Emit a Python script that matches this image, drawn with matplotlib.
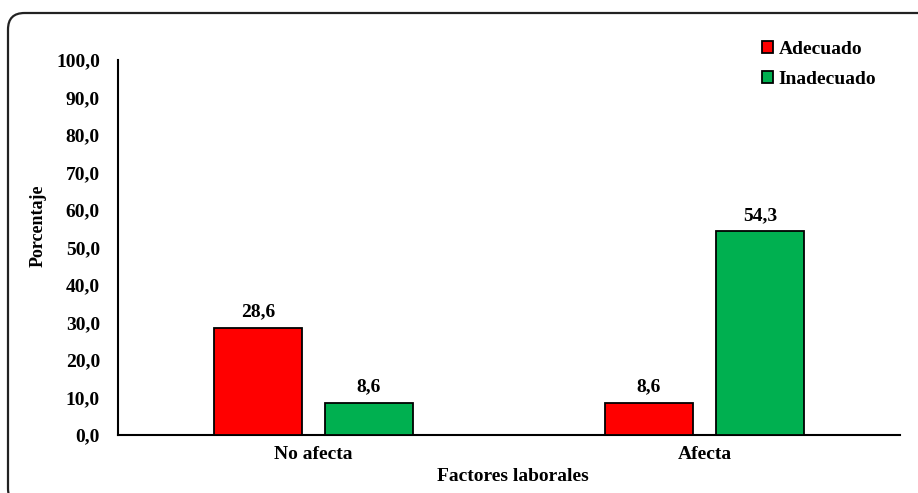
import matplotlib
matplotlib.use("Agg")
import matplotlib.pyplot as plt
from matplotlib.patches import FancyBboxPatch
import numpy as np

categories = ["No afecta", "Afecta"]
series_names = ["Adecuado", "Inadecuado"]
adecuado = [28.6, 8.6]
inadecuado = [8.6, 54.3]
y_ticks = [0, 10, 20, 30, 40, 50, 60, 70, 80, 90, 100]
colors = ["#FF0000", "#00B050"]

plt.rcParams["font.family"] = ["Liberation Serif", "DejaVu Serif"]
plt.rcParams["font.weight"] = "bold"
FS = 14

fig = plt.figure(figsize=(9.18, 4.93), dpi=100)
W, H = 918, 493

# rounded outer frame (runs off the right and bottom edges)
frame = FancyBboxPatch((8 / W, -12 / H), (990 - 8) / W, (480 + 12) / H,
                       boxstyle="round,pad=0,rounding_size=0.018",
                       transform=fig.transFigure, fill=False,
                       edgecolor="#222222", linewidth=1.6, mutation_aspect=W / H,
                       clip_on=False)
fig.patches.append(frame)

ax = fig.add_axes([118 / W, 1 - 435 / H, (900 - 118) / W, (435 - 60) / H])

x = np.arange(len(categories))
width = 0.225
offset = 0.142
b1 = ax.bar(x - offset, adecuado, width, color=colors[0], edgecolor="black",
            linewidth=1.3, label=series_names[0], zorder=3)
b2 = ax.bar(x + offset, inadecuado, width, color=colors[1], edgecolor="black",
            linewidth=1.3, label=series_names[1], zorder=3)

for bars, vals in ((b1, adecuado), (b2, inadecuado)):
    for rect, v in zip(bars, vals):
        ax.text(rect.get_x() + rect.get_width() / 2, v + 2.0,
                f"{v:.1f}".replace(".", ","), ha="center", va="bottom",
                fontsize=FS, fontweight="bold")

ax.set_xlim(-0.5, 1.5)
ax.set_ylim(0, 100)
ax.set_yticks(y_ticks)
ax.set_yticklabels([f"{t:.1f}".replace(".", ",") for t in y_ticks],
                   fontsize=FS, fontweight="bold")
ax.set_xticks(x)
ax.set_xticklabels(categories, fontsize=FS, fontweight="bold")
ax.tick_params(axis="both", length=0)
ax.tick_params(axis="y", pad=13)
ax.tick_params(axis="x", pad=8)

for s in ("top", "right"):
    ax.spines[s].set_visible(False)
for s in ("left", "bottom"):
    ax.spines[s].set_linewidth(1.5)
    ax.spines[s].set_color("black")

ax.set_xlabel("Factores laborales", fontsize=FS, fontweight="bold", va="center")
ax.xaxis.set_label_coords(0.505, -0.11)
ax.set_ylabel("Porcentaje", fontsize=13, fontweight="bold", va="center")
ax.yaxis.set_label_coords(-0.102, 0.557)

leg = ax.legend(loc="upper left", bbox_to_anchor=(0.823, 1.052), frameon=False,
                prop={"size": FS, "weight": "bold"}, handlelength=0.57,
                handleheight=0.57, handletextpad=0.3, labelspacing=0.7,
                borderpad=0, borderaxespad=0)

fig.savefig("out.png", dpi=100)
